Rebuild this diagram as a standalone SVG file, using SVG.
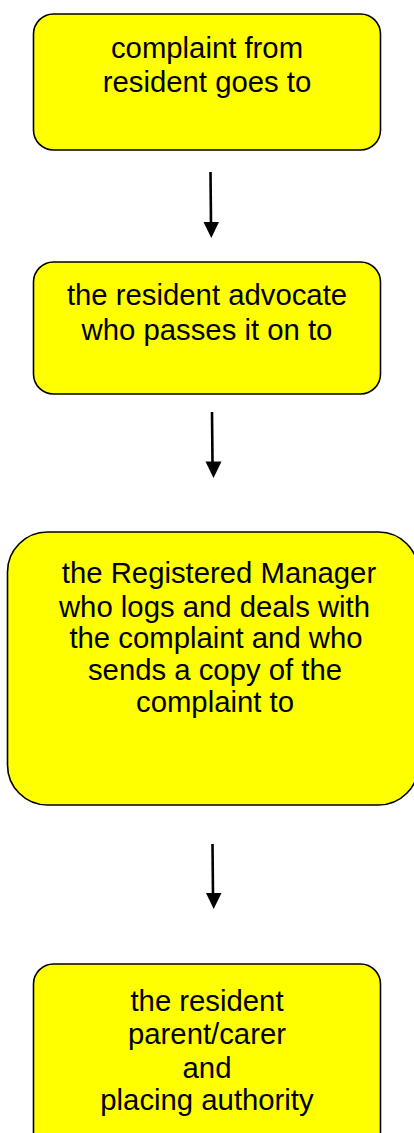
<svg xmlns="http://www.w3.org/2000/svg" width="414" height="1133" viewBox="0 0 414 1133">
  <style>
    .box { fill: #ffff00; stroke: #000000; stroke-width: 1.6; }
    .label { font-family: "Liberation Sans", Arial, sans-serif; font-size: 29.3px; fill: #000000; text-anchor: middle; }
    .link { stroke: #000000; stroke-width: 2.6; fill: none; }
    .head { fill: #000000; }
  </style>
  <rect width="414" height="1133" fill="#ffffff"/>

  <g id="node-complaint">
    <rect class="box" x="33.5" y="14" width="347" height="136" rx="20" ry="20"/>
    <text class="label" x="207" y="58">complaint from</text>
    <text class="label" x="207" y="92">resident goes to</text>
  </g>

  <g id="node-advocate">
    <rect class="box" x="33.5" y="262" width="347" height="132" rx="20" ry="20"/>
    <text class="label" x="207" y="305">the resident advocate</text>
    <text class="label" x="207" y="340">who passes it on to</text>
  </g>

  <g id="node-manager">
    <rect class="box" x="7.5" y="532" width="411" height="273" rx="40" ry="40"/>
    <text class="label" x="219" y="583"> the Registered Manager</text>
    <text class="label" x="214.5" y="617">who logs and deals with</text>
    <text class="label" x="216" y="648">the complaint and who</text>
    <text class="label" x="215" y="680">sends a copy of the</text>
    <text class="label" x="215" y="712">complaint to</text>
  </g>

  <g id="node-recipients">
    <rect class="box" x="33.5" y="964" width="347" height="190" rx="20" ry="20"/>
    <text class="label" x="207" y="1011">the resident</text>
    <text class="label" x="207" y="1044">parent/carer</text>
    <text class="label" x="207" y="1078">and</text>
    <text class="label" x="207" y="1110">placing authority</text>
  </g>

  <g id="connectors">
    <line class="link" x1="210.5" y1="172" x2="211" y2="224"/>
    <polygon class="head" points="203.5,222 219,222 211.3,238"/>
    <line class="link" x1="212" y1="412" x2="212.5" y2="463"/>
    <polygon class="head" points="205.5,461.5 221.5,461.5 213.5,478"/>
    <line class="link" x1="212.5" y1="844" x2="213" y2="895"/>
    <polygon class="head" points="206,893 221.5,893 213.7,909"/>
  </g>
</svg>
